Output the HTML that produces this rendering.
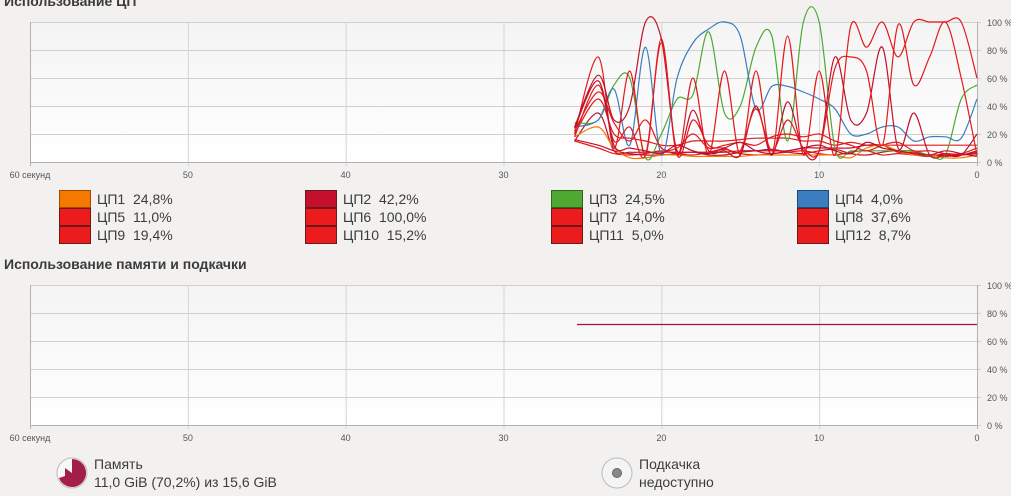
<!DOCTYPE html>
<html><head><meta charset="utf-8"><style>
body{margin:0;width:1011px;height:495px;background:#f2f1f0;font-family:"Liberation Sans","DejaVu Sans",sans-serif;overflow:hidden;position:relative;color:#3c3c3c}
.t{position:absolute;font-weight:bold;font-size:14px;color:#3c3c3c}
.lg{position:absolute;font-size:14px;color:#3c3c3c}
.sw{position:absolute;width:30px;height:16px;border:1px solid #6a1a1a;box-sizing:content-box}
</style></head><body>
<div class="t" style="left:4px;top:-7px">Использование ЦП</div>
<div class="t" style="left:4px;top:256px">Использование памяти и подкачки</div>
<svg id="s" width="1011" height="495" style="position:absolute;left:0;top:0" font-family="Liberation Sans, DejaVu Sans, sans-serif">
<defs><linearGradient id="g" x1="0" y1="0" x2="0" y2="1"><stop offset="0" stop-color="#f4f4f4"/><stop offset="1" stop-color="#ffffff"/></linearGradient></defs>
</svg>
<script>
const s=document.getElementById('s');const NS='http://www.w3.org/2000/svg';
function el(t,a,txt){const e=document.createElementNS(NS,t);for(const k in a)e.setAttribute(k,a[k]);if(txt!=null)e.textContent=txt;s.appendChild(e);return e;}
const X0=30,X1=977;
function chart(top){
 const bot=top+140;
 el('rect',{x:X0,y:top,width:X1-X0,height:140,fill:'url(#g)'});
 for(let i=0;i<=5;i++){const y=top+i*28;el('line',{x1:X0,x2:X1+4,y1:y+.5,y2:y+.5,stroke:'#d0d0d0'});
  el('text',{x:987,y:y+4,'font-size':9,fill:'#555'},(100-i*20)+' %');}
 const labs=['60 секунд','50','40','30','20','10','0'];
 for(let i=0;i<=6;i++){const x=X0+i*(X1-X0)/6;el('line',{x1:x+.5,x2:x+.5,y1:top,y2:bot+4,stroke:i==0||i==6?'#b0b0b0':'#d4d4d4'});
  el('text',{x:x,y:bot+16,'font-size':9,fill:'#555','text-anchor':'middle'},labs[i]);}
 el('line',{x1:X0,x2:X1,y1:bot+.5,y2:bot+.5,stroke:'#b0b0b0'});
 return [top,bot];
}
const [ct,cb]=chart(22);const [mt,mb]=chart(285);
const st=(X1-X0)/60;
function path(vals,col,w){const pts=vals.map((v,i)=>[X1-(25-i)*st-st*0.5*(i==0?1:0),cb-v*1.4]);
 let d='M'+pts[0][0]+','+pts[0][1];
 for(let i=0;i<pts.length-1;i++){const p0=pts[Math.max(0,i-1)],p1=pts[i],p2=pts[i+1],p3=pts[Math.min(pts.length-1,i+2)];
  d+=` C${p1[0]+(p2[0]-p0[0])/6},${p1[1]+(p2[1]-p0[1])/6} ${p2[0]-(p3[0]-p1[0])/6},${p2[1]-(p3[1]-p1[1])/6} ${p2[0]},${p2[1]}`;}
 el('path',{d:d,fill:'none',stroke:col,'stroke-width':w||1.2});}
const R='#e41a1c',DR='#c0102a';
path([15,10,6,5,6,8,6,5,7,9,6,5,6,7,8,6,5,7,8,5,6,5,4,6,5,7],R);
path([16,12,8,6,5,5,6,7,5,5,7,8,9,7,6,8,9,6,5,7,8,6,5,4,5,6],DR);
path([20,45,20,17,15,12,12,15,15,15,16,17,17,17,15,15,12,14,12,12,12,12,12,12,12,12],R);
path([15,35,8,7,7,7,7,7,7,7,8,8,8,8,10,10,10,10,12,12,7,7,5,5,5,8],DR);
path([18,25,10,3,3,5,5,4,4,4,4,5,5,5,5,5,5,3,10,12,8,5,5,3,3,5],'#f57900');
path([28,30,55,60,3,20,45,48,93,35,40,82,90,15,100,100,10,8,8,8,8,8,5,5,45,55],'#4ea832');
path([25,30,52,12,82,5,60,85,95,100,90,38,54,54,50,45,38,20,20,25,25,15,18,18,17,45],'#3b7dbf');
path([20,75,10,65,5,88,5,60,5,65,5,65,5,90,5,65,5,97,82,100,75,100,100,100,100,60],R);
path([25,62,30,40,100,88,8,37,8,8,5,40,5,43,8,8,75,30,35,82,10,35,5,5,5,20],DR);
path([18,55,15,25,5,85,5,30,12,10,8,38,8,30,10,8,67,75,65,12,98,55,75,100,60,5],R);
path([22,50,28,15,30,10,10,20,10,12,14,12,18,20,18,20,15,12,8,12,14,8,8,6,6,10],R);
path([24,58,12,10,8,6,12,8,6,10,14,8,6,8,10,12,8,6,14,10,8,6,5,8,6,4],DR);
el('line',{x1:577,x2:977,y1:324.5,y2:324.5,stroke:'#a3123a','stroke-width':1.2});
</script>
<div class="sw" style="left:59px;top:190px;background:#f57900;border-color:#a04a00"></div><div class="lg" style="left:97px;top:191px">ЦП1 &nbsp;24,8%</div>
<div class="sw" style="left:305px;top:190px;background:#c4102c"></div><div class="lg" style="left:343px;top:191px">ЦП2 &nbsp;42,2%</div>
<div class="sw" style="left:551px;top:190px;background:#4ea832;border-color:#2c6a18"></div><div class="lg" style="left:589px;top:191px">ЦП3 &nbsp;24,5%</div>
<div class="sw" style="left:797px;top:190px;background:#3b7dbf;border-color:#1e4a7a"></div><div class="lg" style="left:835px;top:191px">ЦП4 &nbsp;4,0%</div>
<div class="sw" style="left:59px;top:208px;background:#ec1c1c"></div><div class="lg" style="left:97px;top:209px">ЦП5 &nbsp;11,0%</div>
<div class="sw" style="left:305px;top:208px;background:#ec1c1c"></div><div class="lg" style="left:343px;top:209px">ЦП6 &nbsp;100,0%</div>
<div class="sw" style="left:551px;top:208px;background:#ec1c1c"></div><div class="lg" style="left:589px;top:209px">ЦП7 &nbsp;14,0%</div>
<div class="sw" style="left:797px;top:208px;background:#ec1c1c"></div><div class="lg" style="left:835px;top:209px">ЦП8 &nbsp;37,6%</div>
<div class="sw" style="left:59px;top:226px;background:#ec1c1c"></div><div class="lg" style="left:97px;top:227px">ЦП9 &nbsp;19,4%</div>
<div class="sw" style="left:305px;top:226px;background:#ec1c1c"></div><div class="lg" style="left:343px;top:227px">ЦП10 &nbsp;15,2%</div>
<div class="sw" style="left:551px;top:226px;background:#ec1c1c"></div><div class="lg" style="left:589px;top:227px">ЦП11 &nbsp;5,0%</div>
<div class="sw" style="left:797px;top:226px;background:#ec1c1c"></div><div class="lg" style="left:835px;top:227px">ЦП12 &nbsp;8,7%</div>
<svg width="40" height="40" style="position:absolute;left:55px;top:456px"><circle cx="17" cy="17" r="15" fill="#f8f8f8" stroke="#bbb"/><path d="M17,17 L17,3 A14,14 0 1 1 4,22 L10,20 L10,12 Z" fill="#a31f4a"/></svg>
<div class="lg" style="left:94px;top:455px;line-height:18px">Память<br>11,0 GiB (70,2%) из 15,6 GiB</div>
<svg width="40" height="40" style="position:absolute;left:600px;top:456px"><circle cx="17" cy="17" r="15" fill="#f4f4f4" stroke="#bbb"/><circle cx="17" cy="17" r="4.5" fill="#888" stroke="#666"/></svg>
<div class="lg" style="left:639px;top:455px;line-height:18px">Подкачка<br>недоступно</div>
</body></html>
